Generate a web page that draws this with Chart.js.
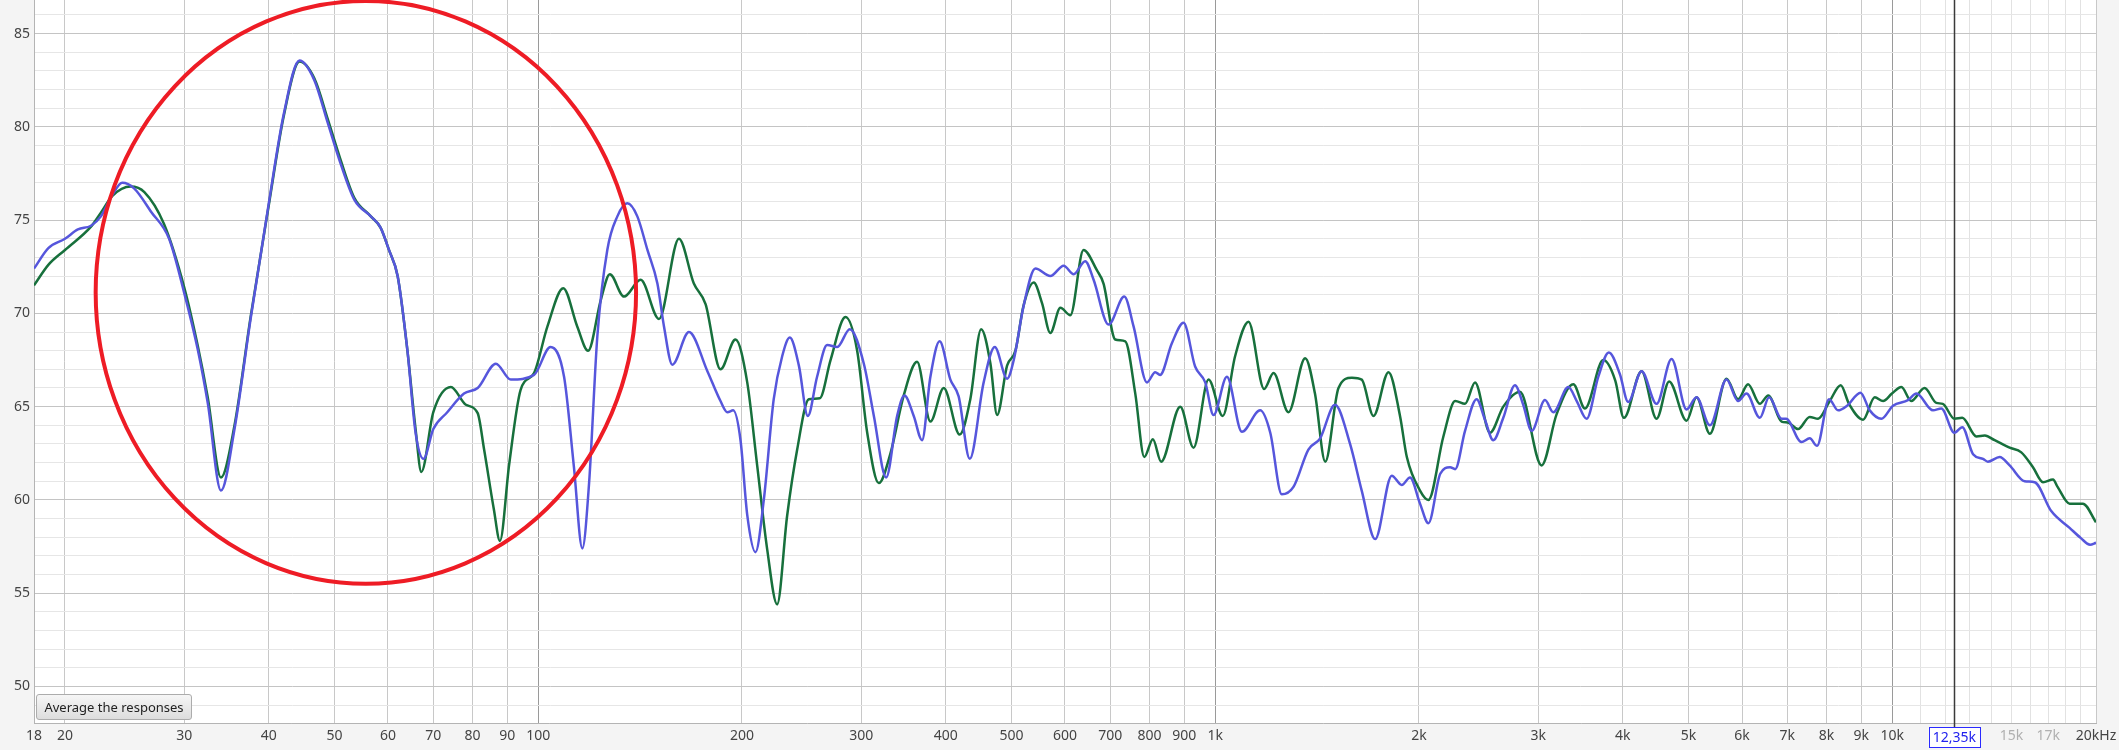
<!DOCTYPE html>
<html>
<head>
<meta charset="utf-8">
<script src="https://cdn.jsdelivr.net/npm/chart.js@4.4.1/dist/chart.umd.min.js"></script>
<style>
  html, body { margin: 0; padding: 0; background: #f4f4f4; }
  #wrap { position: relative; width: 2119px; height: 750px; }
  #avgBtn {
    position: absolute; left: 36px; top: 694px; width: 154px; height: 24px;
    border: 1px solid #acacac; border-radius: 3px;
    background: linear-gradient(#f6f6f6, #dddddd);
    font: 13px "Noto Sans", sans-serif; color: #222;
    display: flex; align-items: center; justify-content: center;
    box-sizing: content-box;
  }
</style>
</head>
<body>
<div id="wrap">
  <canvas id="chart"></canvas>
  <div id="avgBtn">Average the responses</div>
</div>
<script>
// measurement 1 (green)
const greenFreq = [18, 18.9, 20, 21.85, 22.6, 23.5, 25, 26.2, 28, 30, 31.4, 32.5, 34, 35.6, 37.6, 40, 42.1, 44.4, 46.7, 48.9,
  51.1, 53.5, 56.6, 58.5, 60.2, 62, 64.1, 65.9, 67.2, 70, 74.3, 78.2, 81.4, 83.2, 86, 87.8, 90.6, 94.2, 98.6, 103.2,
  108.9, 114.2, 118.5, 123.7, 127.6, 133.9, 141.7, 150.8, 161.4, 169.8, 176.7, 185.9, 195.6, 203.6, 210.6, 217.9, 225.4, 233.2, 241.3, 251,
  260.6, 270.3, 284.4, 295.9, 306.2, 318.5, 331.4, 346.7, 362.8, 379.6, 397.2, 419.4, 434.8, 451.1, 465.6, 476.3, 492.7, 506.9, 521, 539.4,
  554.9, 570.8, 590.6, 611, 639, 669, 684, 711.8, 736.5, 762, 785.7, 809, 832, 888, 929, 977.7, 1026, 1070, 1120, 1181,
  1219.5, 1283, 1358, 1404, 1454, 1521, 1592, 1646, 1713, 1803, 1875, 1919, 2007, 2065, 2173, 2262, 2339, 2420, 2546, 2664,
  2819, 3035, 3194, 3381, 3517, 3743, 3899, 4015, 4264, 4487, 4683, 4969, 5140, 5379, 5692, 5921, 6125, 6375, 6560, 6864,
  7010, 7261, 7554, 7772, 8086, 8394, 8633, 9057, 9424, 9694, 9990, 10318, 10667, 11166, 11620, 11876, 12355, 12693, 13317, 13704,
  14168, 14909, 15512, 16142, 16701, 17280, 17550, 18284, 19126, 20000];
const greenDb = [71.5, 72.6, 73.4, 74.65, 75.4, 76.3, 76.8, 76.5, 74.8, 71.4, 68.3, 65.5, 61.2, 64.0, 69.8, 75.8, 80.6, 83.5, 82.6, 80.4,
  78.2, 76.2, 75.2, 74.6, 73.4, 72.0, 68.0, 63.8, 61.5, 64.7, 66.05, 65.1, 64.65, 62.7, 59.5, 57.8, 61.9, 65.9, 66.8, 69.3,
  71.35, 69.3, 68.0, 70.7, 72.1, 70.9, 71.8, 69.7, 74.0, 71.6, 70.5, 67.0, 68.6, 66.3, 61.85, 57.35, 54.4, 59.15, 62.7, 65.4,
  65.45, 67.5, 69.8, 68.0, 63.6, 60.9, 62.5, 65.6, 67.4, 64.2, 66.0, 63.5, 65.4, 69.15, 67.3, 64.55, 67.2, 68.0, 70.4, 71.65,
  70.55, 68.95, 70.3, 69.9, 73.4, 72.3, 71.6, 68.6, 68.5, 65.7, 62.3, 63.25, 62.05, 65.0, 62.8, 66.45, 64.5, 67.7, 69.55, 65.95,
  66.8, 64.7, 67.6, 65.7, 62.05, 66.0, 66.55, 66.45, 64.5, 66.85, 64.5, 62.3, 60.5, 60.0, 63.4, 65.3, 65.15, 66.3, 63.6, 65.0,
  65.8, 61.85, 64.6, 66.2, 64.9, 67.5, 66.4, 64.4, 66.9, 64.35, 66.35, 64.25, 65.5, 63.55, 66.5, 65.4, 66.2, 65.15, 65.6, 64.2,
  64.15, 63.8, 64.45, 64.35, 65.3, 66.15, 65.15, 64.3, 65.5, 65.3, 65.7, 66.05, 65.3, 66.0, 65.2, 65.15, 64.35, 64.4, 63.4, 63.45,
  63.2, 62.8, 62.55, 61.75, 60.95, 61.1, 60.7, 59.8, 59.8, 58.8];

// measurement 2 (blue)
const blueFreq = [18, 18.9, 20, 20.9, 21.85, 22.6, 23.5, 24.3, 25.3, 26.8, 28.5, 30, 31.4, 32.5, 34, 35.6, 37.6, 40, 42.1, 44.4,
  46.7, 48.9, 51.1, 53.5, 56.6, 58.5, 60.2, 62, 64.1, 65.9, 67.7, 70, 73.4, 77.7, 81.4, 86.6, 91.1, 98.6, 104.3, 109.2,
  112.9, 116.2, 118.9, 122.3, 126.5, 130.9, 135.4, 140.1, 145, 150, 153.4, 157.8, 167, 177.8, 185.9, 190.3, 194.1, 199, 203.6, 209.4,
  215.4, 222.8, 229.3, 235.3, 242.7, 250.2, 258.2, 267.2, 276.5, 288.6, 302.7, 313.2, 326.6, 339, 347.5, 358.7, 369, 379.6, 391.7, 406.3,
  417.9, 434, 455, 472.5, 492.7, 504, 521.2, 542.5, 570.8, 597.3, 618, 642.7, 661.3, 695.9, 734, 757.6, 792.9, 815.5, 829, 863,
  898, 934, 966.7, 994.3, 1040.6, 1095, 1165, 1206, 1254, 1305, 1373, 1429, 1503, 1582, 1646, 1723, 1823, 1886, 1940, 2007,
  2065, 2150, 2223, 2262, 2339, 2433, 2503, 2575, 2664, 2772, 2851, 2934, 3070, 3158, 3323, 3420, 3537, 3680, 3815, 3960,
  4074, 4264, 4487, 4722, 4969, 5140, 5379, 5692, 5921, 6092, 6375, 6580, 6864, 6970, 7345, 7554, 7745, 8067, 8318, 8577,
  8977, 9265, 9639, 10027, 10551, 10857, 11489, 11820, 12355, 12693, 13165, 13620, 13843, 14411, 14909, 15690, 16233, 17177, 18284, 19000,
  19600, 20000];
const blueDb = [72.4, 73.5, 74.0, 74.5, 74.7, 75.2, 76.35, 77.0, 76.7, 75.45, 74.0, 71.1, 68.1, 65.2, 60.5, 63.8, 69.7, 75.9, 80.7, 83.55,
  82.5, 80.2, 78.0, 76.1, 75.2, 74.6, 73.4, 72.0, 68.0, 63.6, 62.2, 63.8, 64.7, 65.7, 66.0, 67.3, 66.45, 66.7, 68.2, 66.6,
  61.8, 57.4, 60.9, 68.8, 73.4, 75.2, 75.9, 75.2, 73.4, 71.6, 69.3, 67.25, 69.0, 66.9, 65.3, 64.7, 64.8, 63.2, 59.2, 57.2,
  60.0, 65.4, 67.7, 68.7, 67.2, 64.5, 66.6, 68.3, 68.2, 69.15, 67.3, 64.5, 61.2, 64.5, 65.6, 64.5, 63.2, 66.6, 68.5, 66.45,
  65.55, 62.2, 66.3, 68.2, 66.5, 67.5, 70.4, 72.4, 72.0, 72.55, 72.1, 72.8, 71.8, 69.4, 70.9, 69.3, 66.3, 66.85, 66.7, 68.4,
  69.5, 67.15, 66.3, 64.55, 66.6, 63.65, 64.8, 63.6, 60.3, 60.7, 62.7, 63.3, 65.1, 63.0, 60.5, 57.9, 61.3, 60.8, 61.2, 59.8,
  58.75, 61.4, 61.75, 61.65, 63.7, 65.4, 64.3, 63.2, 64.4, 66.15, 65.1, 63.7, 65.35, 64.7, 66.05, 65.3, 64.35, 66.6, 67.9, 66.75,
  65.25, 66.9, 65.15, 67.55, 64.85, 65.5, 64.0, 66.45, 65.3, 65.7, 64.4, 65.5, 64.35, 64.35, 63.1, 63.3, 62.9, 65.4, 64.8, 65.05,
  65.75, 64.8, 64.35, 65.05, 65.35, 65.7, 64.8, 64.9, 63.6, 63.9, 62.45, 62.2, 62.05, 62.3, 61.85, 61.0, 60.95, 59.4, 58.5, 57.95,
  57.6, 57.7];

// axes
const xGridFreqs = [18, 20, 30, 40, 50, 60, 70, 80, 90, 100, 200, 300, 400, 500, 600, 700, 800, 900, 1000,
  2000, 3000, 4000, 5000, 6000, 7000, 8000, 9000, 10000, 11000, 12000, 13000, 14000, 15000, 16000, 17000, 18000, 19000, 20000];
const xTickLabels = {18: '18', 20: '20', 30: '30', 40: '40', 50: '50', 60: '60', 70: '70', 80: '80', 90: '90', 100: '100',
  200: '200', 300: '300', 400: '400', 500: '500', 600: '600', 700: '700', 800: '800', 900: '900', 1000: '1k',
  2000: '2k', 3000: '3k', 4000: '4k', 5000: '5k', 6000: '6k', 7000: '7k', 8000: '8k', 9000: '9k', 10000: '10k',
  15000: '15k', 17000: '17k', 20000: '20kHz'};
const fadedLabels = [15000, 17000];
const yTicks = [48, 49, 50, 51, 52, 53, 54, 55, 56, 57, 58, 59, 60, 61, 62, 63, 64, 65, 66, 67, 68, 69, 70,
  71, 72, 73, 74, 75, 76, 77, 78, 79, 80, 81, 82, 83, 84, 85, 86];

const cursorFreq = 12350;
const cursorLabel = '12,35k';
// red ring drawn around the bass region, in data units
const ring = {fMin: 22.2, fMax: 139.5, dbMin: 55.5, dbMax: 86.75};

const tickFont = {family: '"Liberation Sans Narrow", "Noto Sans", sans-serif', size: 14};

const toPoints = (fs, ds) => fs.map((f, i) => ({x: f, y: ds[i]}));

const plotBackground = {
  id: 'plotBackground',
  beforeDraw(chart) {
    const {ctx, chartArea: a} = chart;
    ctx.save();
    ctx.fillStyle = '#ffffff';
    ctx.fillRect(a.left, a.top, a.right - a.left, a.bottom - a.top);
    ctx.restore();
  }
};

const cursor = {
  id: 'cursor',
  beforeDatasetsDraw(chart) {
    const {ctx, chartArea: a, scales: {x}} = chart;
    const px = Math.round(x.getPixelForValue(cursorFreq)) + 0.5;
    ctx.save();
    ctx.strokeStyle = '#3a3a3a';
    ctx.lineWidth = 1.5;
    ctx.beginPath();
    ctx.moveTo(px, a.top);
    ctx.lineTo(px, a.bottom + 10);
    ctx.stroke();
    ctx.restore();
  },
  afterDraw(chart) {
    const {ctx, chartArea: a, scales: {x}} = chart;
    const px = x.getPixelForValue(cursorFreq);
    ctx.save();
    ctx.font = '14px ' + tickFont.family;
    const w = ctx.measureText(cursorLabel).width + 8;
    const top = a.bottom + 4, h = 20;
    ctx.fillStyle = '#ffffff';
    ctx.fillRect(px - w / 2, top, w, h);
    ctx.strokeStyle = '#2a2aff';
    ctx.lineWidth = 1;
    ctx.strokeRect(Math.round(px - w / 2) + 0.5, top + 0.5, Math.round(w), h);
    ctx.fillStyle = '#2222ee';
    ctx.textAlign = 'center';
    ctx.textBaseline = 'middle';
    ctx.fillText(cursorLabel, px, top + h / 2 + 1);
    ctx.restore();
  }
};

const redRing = {
  id: 'redRing',
  afterDatasetsDraw(chart) {
    const {ctx, scales: {x, y}} = chart;
    const l = x.getPixelForValue(ring.fMin), r = x.getPixelForValue(ring.fMax);
    const t = y.getPixelForValue(ring.dbMax), b = y.getPixelForValue(ring.dbMin);
    ctx.save();
    ctx.strokeStyle = '#ee1c25';
    ctx.lineWidth = 4;
    ctx.beginPath();
    ctx.ellipse((l + r) / 2, (t + b) / 2, (r - l) / 2, (b - t) / 2, 0, 0, Math.PI * 2);
    ctx.stroke();
    ctx.restore();
  }
};

const xGridColor = (v) => {
  if (v === 100 || v === 1000 || v === 10000) return '#9a9a9a';
  if (v > 10000 && v < 20000) return '#e2e2e2';
  return '#c8c8c8';
};

new Chart(document.getElementById('chart'), {
  type: 'scatter',
  data: {
    datasets: [
      {data: toPoints(blueFreq, blueDb), borderColor: '#5656dc', order: 0},
      {data: toPoints(greenFreq, greenDb), borderColor: '#17703c', order: 1}
    ].map(d => ({...d, showLine: true, pointRadius: 0, borderWidth: 2.5, cubicInterpolationMode: 'monotone'}))
  },
  options: {
    animation: false,
    responsive: true,
    maintainAspectRatio: false,
    layout: {padding: {left: 0, right: 23, top: 0, bottom: 0}},
    plugins: {legend: {display: false}, tooltip: {enabled: false}},
    scales: {
      x: {
        type: 'logarithmic',
        min: 18,
        max: 20000,
        afterBuildTicks: (s) => { s.ticks = xGridFreqs.map(v => ({value: v})); },
        afterFit: (s) => { s.height = 27; s.paddingLeft = 0; s.paddingRight = 0; },
        ticks: {
          autoSkip: false,
          maxRotation: 0,
          padding: 5,
          font: tickFont,
          color: (c) => fadedLabels.includes(c.tick.value) ? '#b0b0b0' : '#444',
          callback: (v) => xTickLabels[v] || ''
        },
        grid: {color: (c) => xGridColor(c.tick.value), drawTicks: false},
        border: {color: '#b4b4b4'}
      },
      y: {
        min: 48.04,
        max: 86.8,
        afterBuildTicks: (s) => { s.ticks = yTicks.map(v => ({value: v})); },
        afterFit: (s) => { s.width = 34; s.paddingTop = 0; s.paddingBottom = 0; },
        ticks: {
          autoSkip: false,
          padding: 4,
          font: tickFont,
          color: '#444',
          callback: (v) => v % 5 === 0 ? String(v) : ''
        },
        grid: {color: (c) => c.tick.value % 5 === 0 ? '#c4c4c4' : '#e6e6e6', drawTicks: false},
        border: {color: '#b4b4b4'}
      }
    }
  },
  plugins: [plotBackground, cursor, redRing]
});
</script>
</body>
</html>
